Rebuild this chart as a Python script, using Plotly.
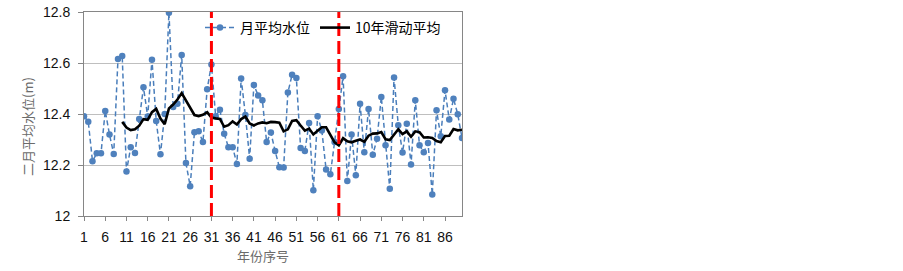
import plotly.graph_objects as go

# ---------------- data ----------------
years = list(range(1, 91))
level = [
    12.391, 12.370, 12.215, 12.246, 12.246, 12.412, 12.320, 12.243, 12.616, 12.627,
    12.175, 12.270, 12.247, 12.380, 12.505, 12.390, 12.613, 12.373, 12.242, 12.400,
    12.797, 12.427, 12.440, 12.631, 12.208, 12.117, 12.328, 12.332, 12.290, 12.497,
    12.594, 12.391, 12.417, 12.323, 12.270, 12.270, 12.204, 12.539, 12.396, 12.225,
    12.514, 12.473, 12.454, 12.290, 12.327, 12.255, 12.191, 12.190, 12.484, 12.554,
    12.541, 12.267, 12.255, 12.365, 12.101, 12.391, 12.335, 12.182, 12.164, 12.290,
    12.420, 12.548, 12.137, 12.320, 12.160, 12.440, 12.250, 12.420, 12.240, 12.303,
    12.467, 12.277, 12.107, 12.543, 12.356, 12.249, 12.362, 12.202, 12.454, 12.277,
    12.250, 12.286, 12.084, 12.415, 12.313, 12.493, 12.378, 12.460, 12.399, 12.306,
]
ma_years = list(range(10, 91))
ma10 = [
    12.369, 12.347, 12.337, 12.340, 12.354, 12.380, 12.377, 12.407, 12.420, 12.382,
    12.360, 12.422, 12.437, 12.457, 12.482, 12.452, 12.425, 12.396, 12.392, 12.397,
    12.407, 12.386, 12.383, 12.381, 12.350, 12.356, 12.371, 12.359, 12.380, 12.390,
    12.363, 12.355, 12.363, 12.367, 12.364, 12.369, 12.368, 12.366, 12.332, 12.340,
    12.373, 12.376, 12.355, 12.335, 12.343, 12.320, 12.334, 12.348, 12.348, 12.316,
    12.289, 12.277, 12.305, 12.293, 12.289, 12.295, 12.300, 12.291, 12.315, 12.323,
    12.324, 12.329, 12.301, 12.298, 12.321, 12.340, 12.321, 12.332, 12.311, 12.332,
    12.329, 12.308, 12.309, 12.306, 12.294, 12.289, 12.314, 12.315, 12.341, 12.336,
    12.338,
]
break_years = [31, 61]
xtick_vals = list(range(1, 87, 5))
xtick_text = [str(v) for v in xtick_vals]
ytick_vals = [12.0, 12.2, 12.4, 12.6, 12.8]
ytick_text = ["12", "12.2", "12.4", "12.6", "12.8"]

name_level = "月平均水位"
name_ma = "10年滑动平均"
x_title = "年份序号"
y_title = "二月平均水位(m)"

# ---------------- figure ----------------
W, H = 903, 271
PL, PT, PW, PH = 84, 12, 378, 204          # plot area in window pixels
ML, MT = PL, PT
MR, MB = W - ML - PW, H - MT - PH


def px_x(x):   # window px -> paper x
    return (x - PL) / PW


def px_y(y):   # window px -> paper y
    return (PT + PH - y) / PH


fig = go.Figure()
fig.add_trace(go.Scatter(
    x=years, y=level, name=name_level, mode="lines+markers",
    line=dict(color="#4A7EBB", width=1.5, dash="5px,3px"),
    marker=dict(color="#4F81BD", size=6.5),
))
fig.add_trace(go.Scatter(
    x=ma_years, y=ma10, name=name_ma, mode="lines",
    line=dict(color="#000000", width=2.6),
))

for bx in break_years:
    fig.add_shape(type="line", xref="x", yref="y", x0=bx, x1=bx,
                  y0=ytick_vals[0], y1=ytick_vals[-1],
                  line=dict(color="#FF0000", width=3, dash="13px,5px"))

tick_font = dict(family="Liberation Sans, Arial, sans-serif", size=14, color="#111111")
cjk = "Noto Sans CJK SC"

fig.update_xaxes(
    range=[years[0], years[-1]], tickmode="array", tickvals=xtick_vals, ticktext=xtick_text,
    ticks="outside", ticklen=4, tickcolor="#868686", tickwidth=1,
    showline=True, linecolor="#868686", linewidth=1, mirror=True,
    showgrid=False, zeroline=False, tickfont=tick_font, ticklabelstandoff=4,
)
fig.update_yaxes(
    range=[ytick_vals[0], ytick_vals[-1]], tickmode="array", tickvals=ytick_vals, ticktext=ytick_text,
    ticks="outside", ticklen=5, tickcolor="#868686", tickwidth=1,
    showline=True, linecolor="#868686", linewidth=1, mirror=True,
    showgrid=True, gridcolor="#BFBFBF", gridwidth=1, zeroline=False, tickfont=tick_font,
    ticklabelstandoff=5, ticklabeloverflow="allow",
)

fig.add_annotation(text=x_title, xref="paper", yref="paper",
                   x=px_x(263), y=px_y(255), xanchor="center", yanchor="middle",
                   showarrow=False, font=dict(family=cjk, size=13, color="#6b6b6b"))
fig.add_annotation(text=y_title, xref="paper", yref="paper", textangle=-90,
                   x=px_x(27), y=px_y(127), xanchor="center", yanchor="middle",
                   showarrow=False, font=dict(family=cjk, size=13, color="#6b6b6b"))

fig.update_layout(
    width=W, height=H, margin=dict(l=ML, r=MR, t=MT, b=MB, autoexpand=False),
    paper_bgcolor="white", plot_bgcolor="white",
    showlegend=True,
    legend=dict(orientation="h", x=px_x(200), xanchor="left",
                y=px_y(28), yanchor="middle",
                bgcolor="rgba(0,0,0,0)", font=dict(family=cjk, size=14, color="#000000"),
                itemwidth=30, tracegroupgap=0),
)

# remove the browser's default 8px body margin so the figure sits at the window origin
fig.write_html("out.html", config={"displayModeBar": False},
               post_script="document.body.style.margin='0';")
